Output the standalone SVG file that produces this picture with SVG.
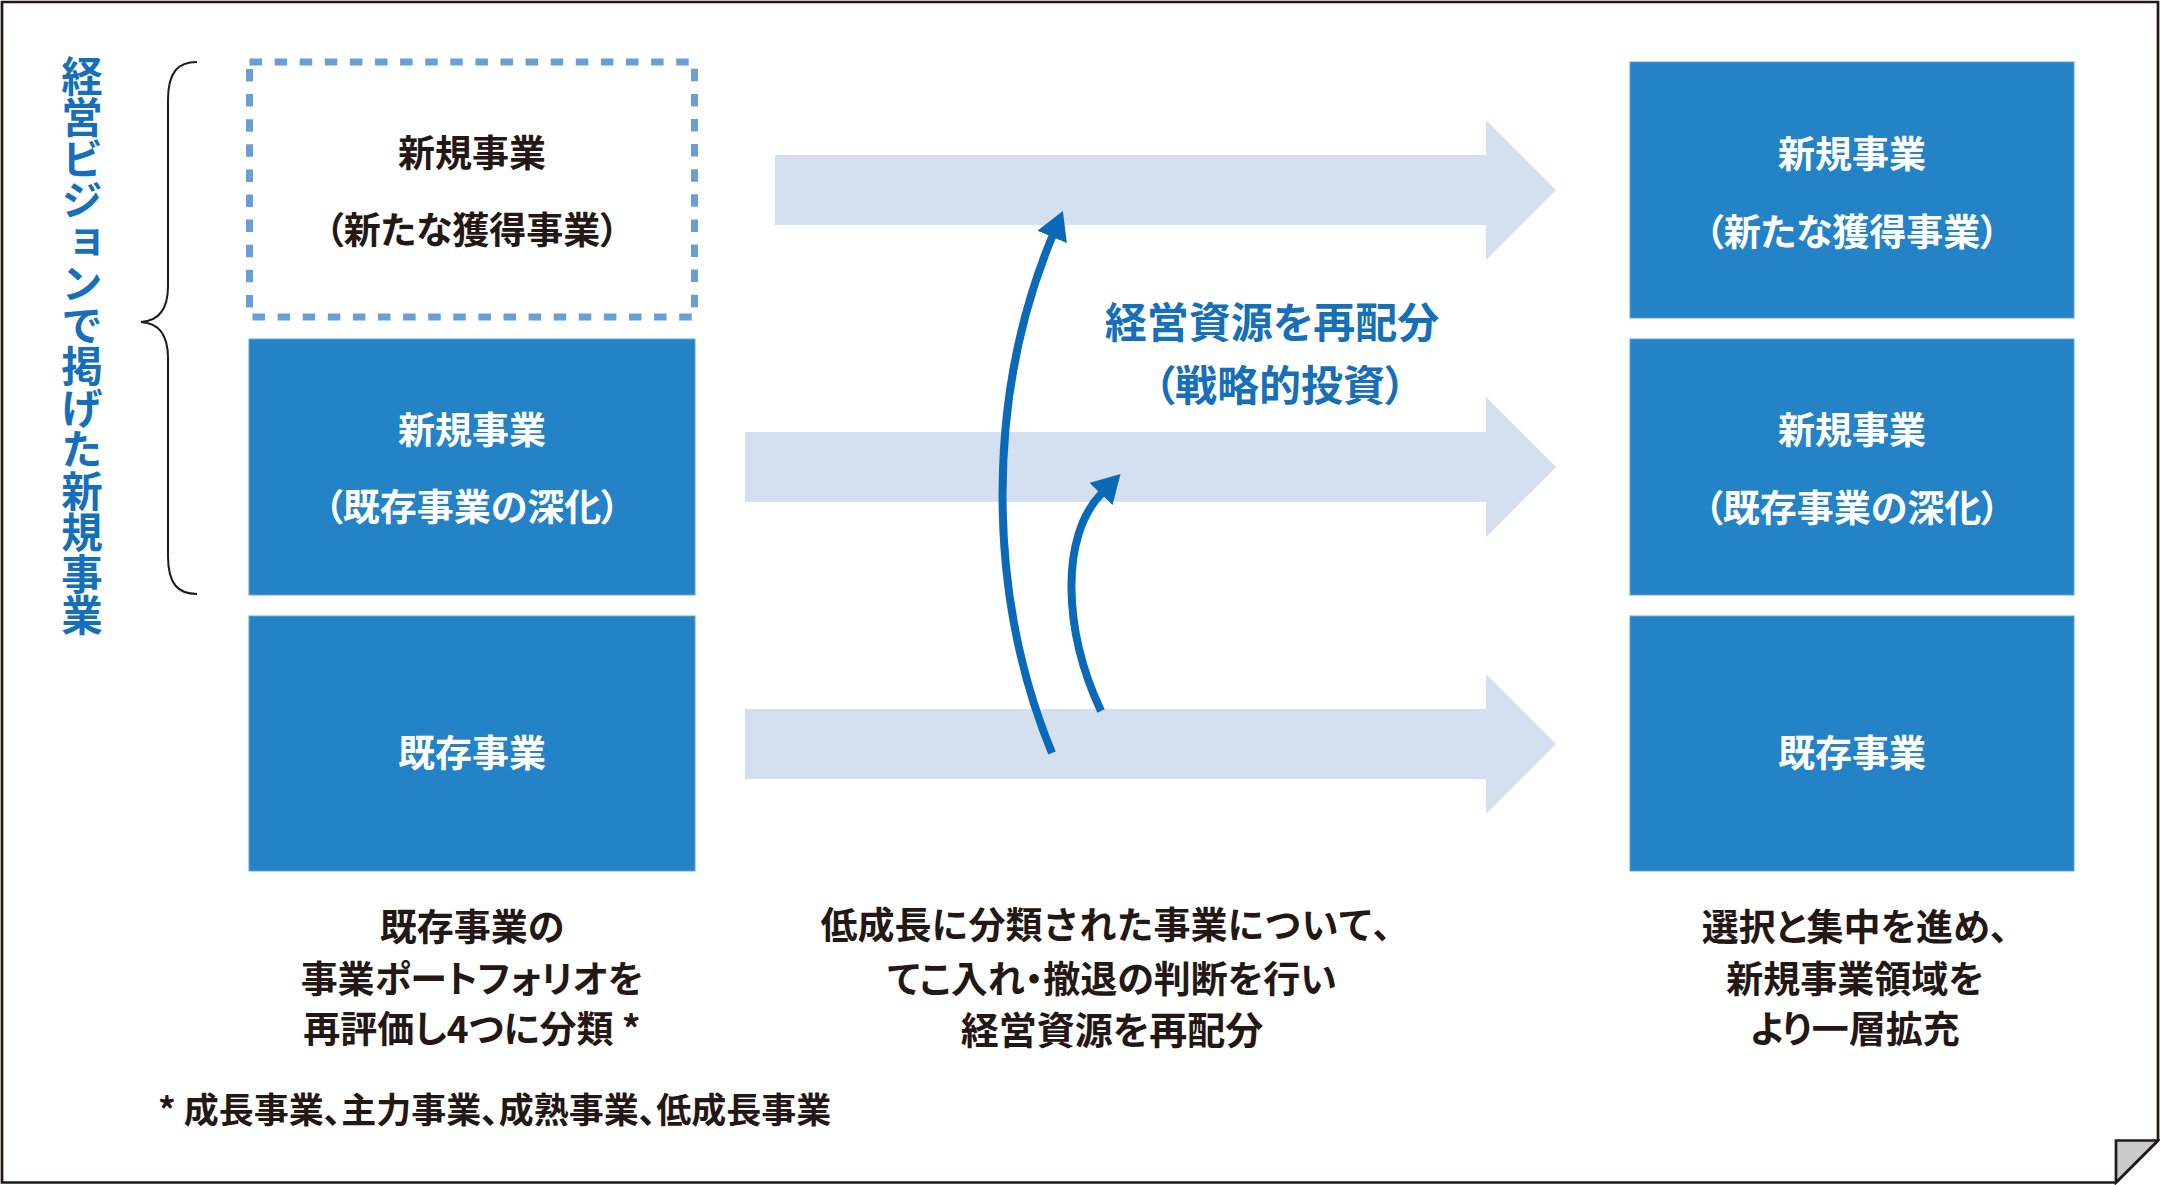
<svg xmlns="http://www.w3.org/2000/svg" width="2160" height="1185" viewBox="0 0 2160 1185">
<style>
.f{font-family:"Noto Sans CJK JP","Noto Sans",sans-serif;font-weight:700;font-feature-settings:"palt"}
.t{text-anchor:middle;dominant-baseline:central;font-size:37px}
.np{font-feature-settings:normal}
.w{fill:#ffffff}
.k{fill:#231815}
.b{fill:#1670b9}
.box{fill:#2383c6;stroke:#5ea3d9;stroke-width:1}
.band{fill:#d4dff0}
.curve{fill:none;stroke:#0a6ab8;stroke-width:8;marker-end:url(#ah)}
.frame{fill:#ffffff;stroke:#231815;stroke-width:2.7;stroke-linejoin:miter}
</style>
<defs>
<marker id="ah" markerUnits="userSpaceOnUse" viewBox="0 0 28 32" markerWidth="28" markerHeight="32" refX="1" refY="16" orient="auto">
<path d="M0,0 L28,16 L0,32 Z" fill="#0a6ab8"/>
</marker>
</defs>

<g id="frame">
<path class="frame" d="M2,2 H2158 V1140.5 L2116,1182.5 H2 Z"/>
<polygon points="2116,1140.5 2158,1140.5 2116,1182.5" fill="#c9c9c9" stroke="#231815" stroke-width="2.7" stroke-linejoin="miter"/>
</g>

<g id="vision-label">
<text class="f b" x="82" y="55" style="writing-mode:vertical-rl;font-size:41.5px;dominant-baseline:central">経営ビジョンで掲げた新規事業</text>
<path d="M197,62 C178,62 168,72 168,100 L168,286 C168,310 158,321 141,322 C158,323 168,334 168,358 L168,556 C168,584 178,594 197,594" fill="none" stroke="#231815" stroke-width="2"/>
</g>

<g id="connectors">
<polygon class="band" points="775,155 1486,155 1486,120 1556,190 1486,260 1486,225 775,225"/>
<polygon class="band" points="745,432 1486,432 1486,397 1556,467 1486,537 1486,502 745,502"/>
<polygon class="band" points="745,709 1486,709 1486,674 1556,744 1486,814 1486,779 745,779"/>
<path class="curve" d="M1052,753 C985,590 987,393 1052.5,236"/>
<path class="curve" d="M1101,711 C1063,630 1060,536 1101.7,493.3"/>
</g>

<g id="realloc-label">
<text class="f t b" x="1272" y="319" style="font-size:42px">経営資源を再配分</text>
<text class="f t b" x="1280" y="382" style="font-size:42px">（戦略的投資）</text>
</g>

<g id="left-new-acquired">
<rect x="249.5" y="62" width="445" height="255" fill="none" stroke="#6a9fd6" stroke-width="7" stroke-dasharray="12.5 12.6"/>
<text class="f t k" x="472" y="151">新規事業</text>
<text class="f t k" x="472" y="228">（新たな獲得事業）</text>
</g>

<g id="left-new-deepen">
<rect class="box" x="249" y="339" width="446" height="256"/>
<text class="f t w" x="472" y="428">新規事業</text>
<text class="f t w" x="472" y="505">（既存事業の深化）</text>
</g>

<g id="left-existing">
<rect class="box" x="249" y="616" width="446" height="255"/>
<text class="f t w" x="472" y="751">既存事業</text>
</g>

<g id="right-new-acquired">
<rect class="box" x="1630" y="62" width="444" height="256"/>
<text class="f t w" x="1852" y="152">新規事業</text>
<text class="f t w" x="1852" y="230">（新たな獲得事業）</text>
</g>

<g id="right-new-deepen">
<rect class="box" x="1630" y="339" width="444" height="256"/>
<text class="f t w" x="1852" y="428">新規事業</text>
<text class="f t w" x="1852" y="506">（既存事業の深化）</text>
</g>

<g id="right-existing">
<rect class="box" x="1630" y="616" width="444" height="255"/>
<text class="f t w" x="1852" y="751">既存事業</text>
</g>

<g id="captions">
<text class="f t k" x="472" y="925">既存事業の</text>
<text class="f t k" x="472" y="977">事業ポートフォリオを</text>
<text class="f t k" x="472" y="1027">再評価し4つに分類 *</text>
<text class="f t k np" x="1115" y="923">低成長に分類された事業について、</text>
<text class="f t k" x="1112" y="977">てこ入れ・撤退の判断を行い</text>
<text class="f t k" x="1112" y="1027" style="font-size:38px">経営資源を再配分</text>
<text class="f t k" x="1855" y="925">選択と集中を進め、</text>
<text class="f t k" x="1855" y="977">新規事業領域を</text>
<text class="f t k" x="1855" y="1027">より一層拡充</text>
<text class="f k" x="158" y="1107" style="font-size:35px;dominant-baseline:central">* 成長事業、主力事業、成熟事業、低成長事業</text>
</g>
</svg>
